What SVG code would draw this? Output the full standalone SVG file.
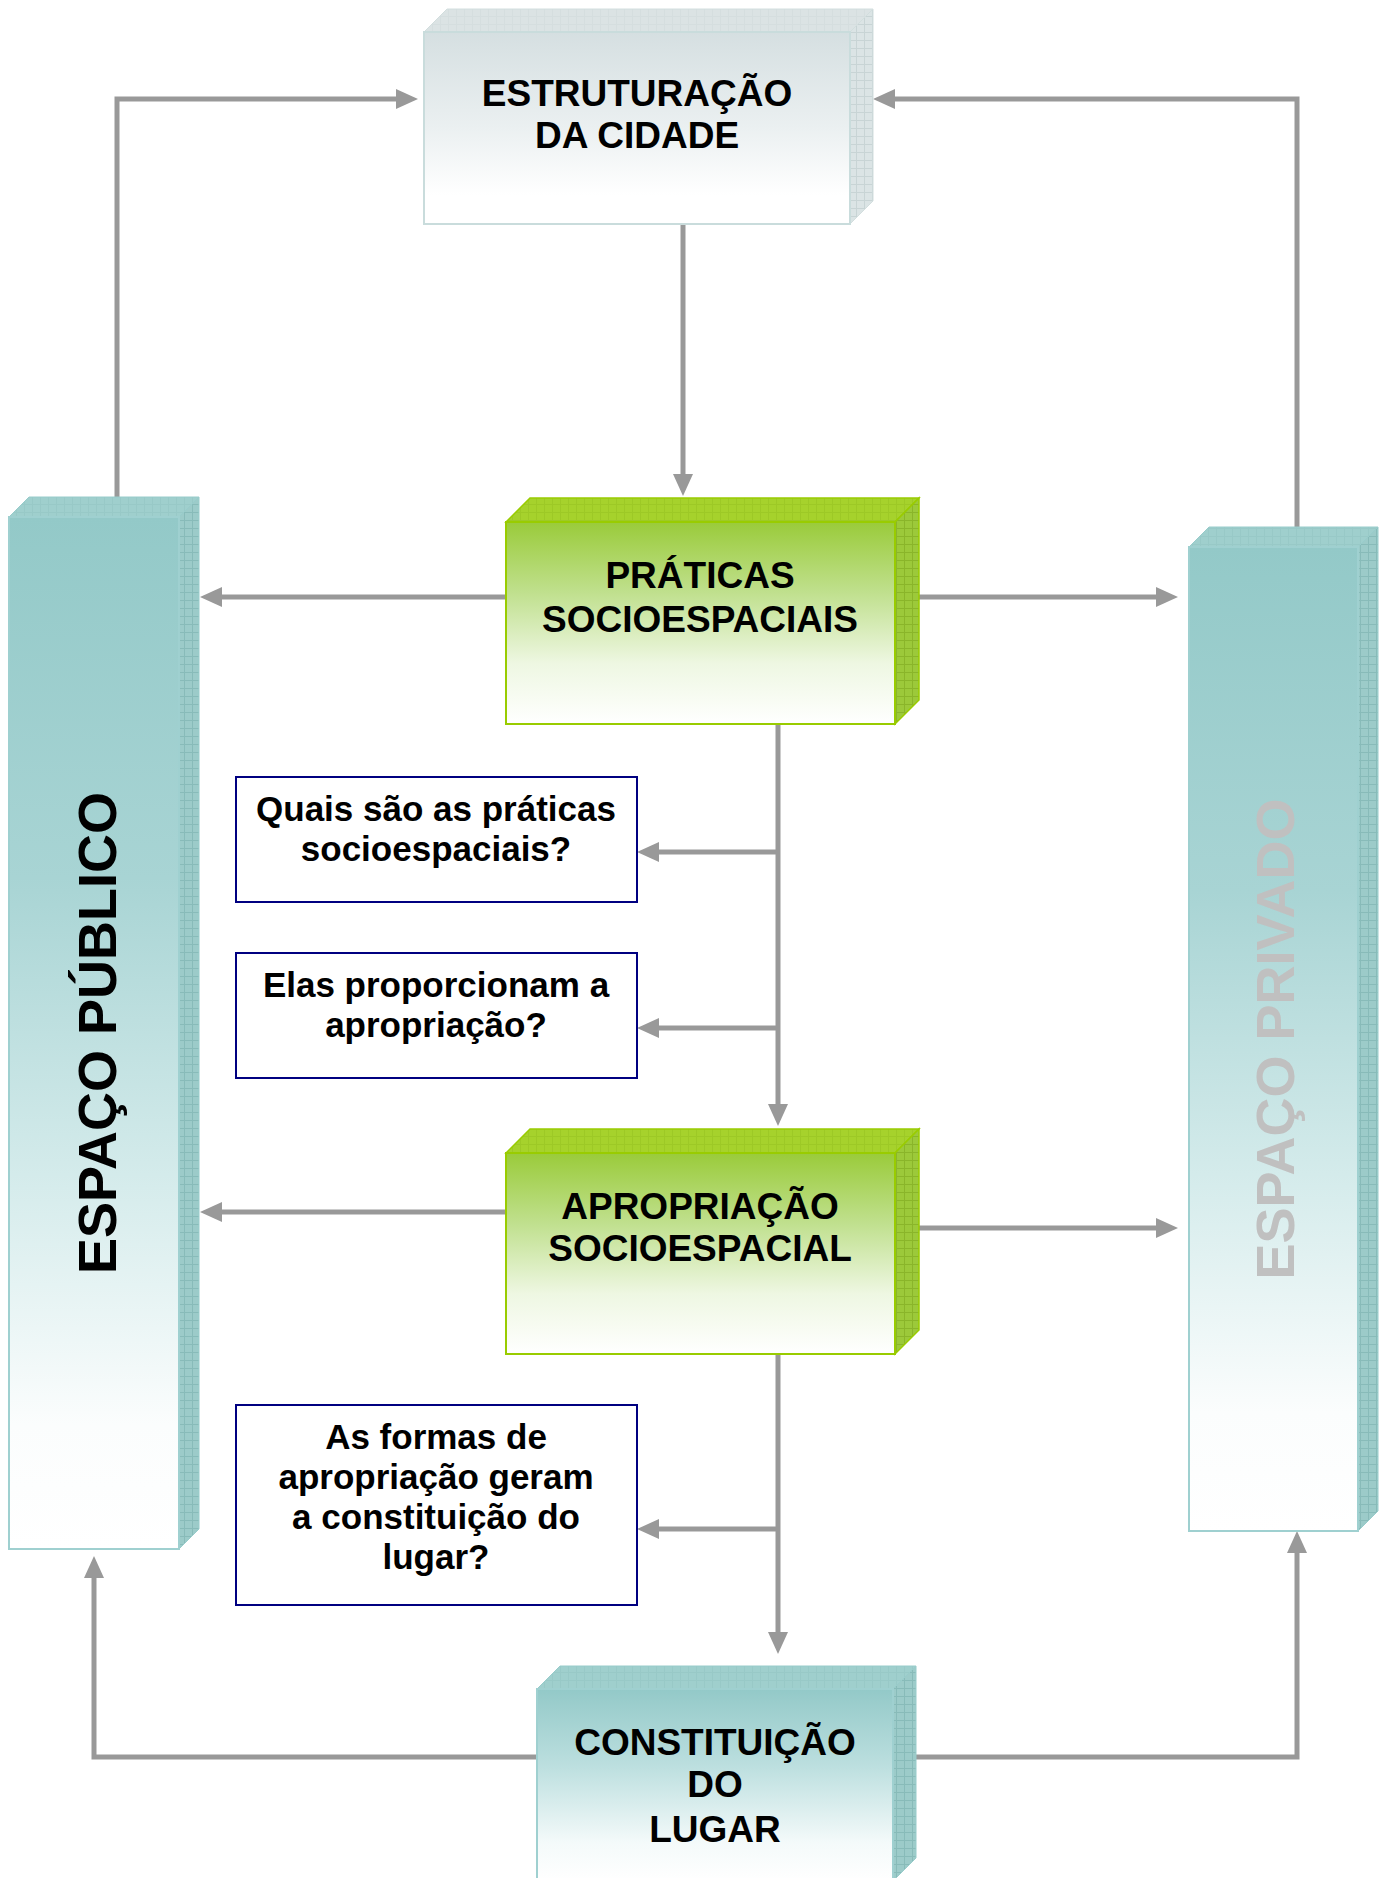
<svg xmlns="http://www.w3.org/2000/svg" width="1388" height="1878" viewBox="0 0 1388 1878">
<style>
.conn{stroke:#999999;stroke-width:5;fill:none;stroke-linejoin:miter}
.big{font-family:"Liberation Sans",Arial,sans-serif;font-weight:bold;font-size:37px;fill:#000;text-anchor:middle}
.q{font-family:"Liberation Sans",Arial,sans-serif;font-weight:bold;font-size:35px;fill:#000;text-anchor:middle}
.vert{font-family:"Liberation Sans",Arial,sans-serif;font-weight:bold;font-size:54px;text-anchor:middle}
.qbox{fill:#ffffff;stroke:#000080;stroke-width:2}
</style>
<defs>
<linearGradient id="gGreen" x1="0" y1="0" x2="0" y2="1">
<stop offset="0" stop-color="#9acb3a"/>
<stop offset="0.35" stop-color="#c0e08e"/>
<stop offset="0.7" stop-color="#eef7e2"/>
<stop offset="1" stop-color="#ffffff"/>
</linearGradient>
<linearGradient id="gTealCol" x1="0" y1="0" x2="0" y2="1">
<stop offset="0" stop-color="#93c9c8"/>
<stop offset="0.35" stop-color="#a8d4d4"/>
<stop offset="0.65" stop-color="#d6ecec"/>
<stop offset="0.88" stop-color="#fbfdfd"/>
<stop offset="1" stop-color="#ffffff"/>
</linearGradient>
<linearGradient id="gTealBox" x1="0" y1="0" x2="0" y2="1">
<stop offset="0" stop-color="#93c9c8"/>
<stop offset="0.4" stop-color="#bcdfdf"/>
<stop offset="0.8" stop-color="#f4fafa"/>
<stop offset="1" stop-color="#ffffff"/>
</linearGradient>
<linearGradient id="gGray" x1="0" y1="0" x2="0" y2="1">
<stop offset="0" stop-color="#d5dfe1"/>
<stop offset="0.5" stop-color="#ebf0f1"/>
<stop offset="0.85" stop-color="#ffffff"/>
<stop offset="1" stop-color="#ffffff"/>
</linearGradient>
<pattern id="meshGreen" patternUnits="userSpaceOnUse" width="8" height="8">
<rect width="8" height="8" fill="#9cc93a"/>
<path d="M0 0.5H8M0.5 0V8" stroke="#8ab52a" stroke-width="1"/>
</pattern>
<pattern id="meshGreenTop" patternUnits="userSpaceOnUse" width="8" height="8">
<rect width="8" height="8" fill="#a6d22c"/>
<path d="M0 0.5H8M0.5 0V8" stroke="#9dc926" stroke-width="1"/>
</pattern>
<pattern id="meshTeal" patternUnits="userSpaceOnUse" width="8" height="8">
<rect width="8" height="8" fill="#9ccbc9"/>
<path d="M0 0.5H8M0.5 0V8" stroke="#88bbb9" stroke-width="1"/>
</pattern>
<pattern id="meshTealTop" patternUnits="userSpaceOnUse" width="8" height="8">
<rect width="8" height="8" fill="#9fcfcd"/>
<path d="M0 0.5H8M0.5 0V8" stroke="#98c9c7" stroke-width="1"/>
</pattern>
<pattern id="meshGray" patternUnits="userSpaceOnUse" width="8" height="8">
<rect width="8" height="8" fill="#dbe4e5"/>
<path d="M0 0.5H8M0.5 0V8" stroke="#c8d4d5" stroke-width="1"/>
</pattern>
<pattern id="meshGrayTop" patternUnits="userSpaceOnUse" width="8" height="8">
<rect width="8" height="8" fill="#dbe3e4"/>
<path d="M0 0.5H8M0.5 0V8" stroke="#d5dedf" stroke-width="1"/>
</pattern>
<marker id="arr" markerUnits="userSpaceOnUse" markerWidth="22" markerHeight="20" viewBox="0 0 22 20" refX="12" refY="10" orient="auto">
<path d="M0 0L22 10L0 20z" fill="#999999"/>
</marker>
</defs>
<rect width="1388" height="1878" fill="#ffffff"/>

<g id="connectors">
<path class="conn" d="M117 497V99H408" marker-end="url(#arr)"/>
<path class="conn" d="M1297 527V99H883" marker-end="url(#arr)"/>
<path class="conn" d="M683 224V486" marker-end="url(#arr)"/>
<path class="conn" d="M506 597H210" marker-end="url(#arr)"/>
<path class="conn" d="M919 597H1168" marker-end="url(#arr)"/>
<path class="conn" d="M778 724V1116" marker-end="url(#arr)"/>
<path class="conn" d="M778 852H647" marker-end="url(#arr)"/>
<path class="conn" d="M778 1028H647" marker-end="url(#arr)"/>
<path class="conn" d="M506 1212H210" marker-end="url(#arr)"/>
<path class="conn" d="M919 1228H1168" marker-end="url(#arr)"/>
<path class="conn" d="M778 1354V1644" marker-end="url(#arr)"/>
<path class="conn" d="M778 1529H647" marker-end="url(#arr)"/>
<path class="conn" d="M537 1757H94V1566" marker-end="url(#arr)"/>
<path class="conn" d="M916 1757H1297V1541" marker-end="url(#arr)"/>
</g>

<g id="estruturacao">
<polygon points="424,32 447,9 873,9 850,32" fill="url(#meshGrayTop)" stroke="#d2dede" stroke-width="1"/>
<polygon points="850,32 873,9 873,201 850,224" fill="url(#meshGray)" stroke="#d2dede" stroke-width="1"/>
<rect x="424" y="32" width="426" height="192" fill="url(#gGray)" stroke="#c9dcdc" stroke-width="2"/>
<text class="big" x="637" y="106">ESTRUTURAÇÃO</text>
<text class="big" x="637" y="148">DA CIDADE</text>
</g>

<g id="espaco-publico">
<polygon points="9,517 29,497 199,497 179,517" fill="url(#meshTealTop)" stroke="#98cccb" stroke-width="1"/>
<polygon points="179,517 199,497 199,1529 179,1549" fill="url(#meshTeal)" stroke="#98cccb" stroke-width="1"/>
<rect x="9" y="517" width="170" height="1032" fill="url(#gTealCol)" stroke="#9fd0d0" stroke-width="2"/>
<text class="vert" transform="translate(116,1033) rotate(-90)" fill="#000000">ESPAÇO PÚBLICO</text>
</g>

<g id="espaco-privado">
<polygon points="1189,547 1209,527 1378,527 1358,547" fill="url(#meshTealTop)" stroke="#98cccb" stroke-width="1"/>
<polygon points="1358,547 1378,527 1378,1511 1358,1531" fill="url(#meshTeal)" stroke="#98cccb" stroke-width="1"/>
<rect x="1189" y="547" width="169" height="984" fill="url(#gTealCol)" stroke="#9fd0d0" stroke-width="2"/>
<text class="vert" transform="translate(1294,1039) rotate(-90)" fill="#c0c0c0">ESPAÇO PRIVADO</text>
</g>

<g id="praticas">
<polygon points="506,522 530,498 919,498 895,522" fill="url(#meshGreenTop)" stroke="#99cc00" stroke-width="1.5"/>
<polygon points="895,522 919,498 919,700 895,724" fill="url(#meshGreen)" stroke="#99cc00" stroke-width="1.5"/>
<rect x="506" y="522" width="389" height="202" fill="url(#gGreen)" stroke="#99cc00" stroke-width="2"/>
<text class="big" x="700" y="588">PRÁTICAS</text>
<text class="big" x="700" y="632">SOCIOESPACIAIS</text>
</g>

<g id="q1">
<rect class="qbox" x="236" y="777" width="401" height="125"/>
<text class="q" x="436" y="821">Quais são as práticas</text>
<text class="q" x="436" y="861">socioespaciais?</text>
</g>

<g id="q2">
<rect class="qbox" x="236" y="953" width="401" height="125"/>
<text class="q" x="436" y="997">Elas proporcionam a</text>
<text class="q" x="436" y="1037">apropriação?</text>
</g>

<g id="apropriacao">
<polygon points="506,1153 530,1129 919,1129 895,1153" fill="url(#meshGreenTop)" stroke="#99cc00" stroke-width="1.5"/>
<polygon points="895,1153 919,1129 919,1330 895,1354" fill="url(#meshGreen)" stroke="#99cc00" stroke-width="1.5"/>
<rect x="506" y="1153" width="389" height="201" fill="url(#gGreen)" stroke="#99cc00" stroke-width="2"/>
<text class="big" x="700" y="1219">APROPRIAÇÃO</text>
<text class="big" x="700" y="1261">SOCIOESPACIAL</text>
</g>

<g id="q3">
<rect class="qbox" x="236" y="1405" width="401" height="200"/>
<text class="q" x="436" y="1449">As formas de</text>
<text class="q" x="436" y="1489">apropriação geram</text>
<text class="q" x="436" y="1529">a constituição do</text>
<text class="q" x="436" y="1569">lugar?</text>
</g>

<g id="constituicao">
<polygon points="537,1689 560,1666 916,1666 893,1689" fill="url(#meshTealTop)" stroke="#98cccb" stroke-width="1"/>
<polygon points="893,1689 916,1666 916,1858 893,1881" fill="url(#meshTeal)" stroke="#98cccb" stroke-width="1"/>
<rect x="537" y="1689" width="356" height="192" fill="url(#gTealBox)" stroke="#9fd0d0" stroke-width="2"/>
<text class="big" x="715" y="1755">CONSTITUIÇÃO</text>
<text class="big" x="715" y="1797">DO</text>
<text class="big" x="715" y="1842">LUGAR</text>
</g>
</svg>
